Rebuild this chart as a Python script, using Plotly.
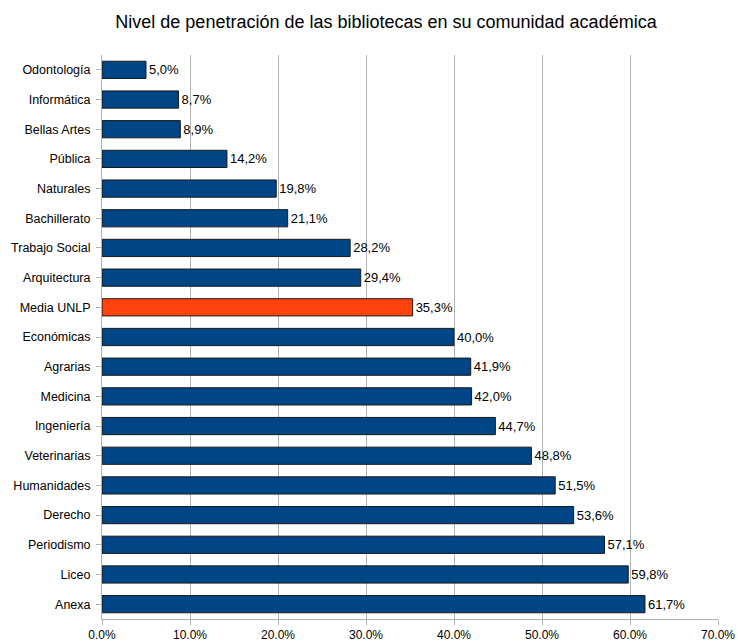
import plotly.graph_objects as go

categories = ["Odontología", "Informática", "Bellas Artes", "Pública", "Naturales",
              "Bachillerato", "Trabajo Social", "Arquitectura", "Media UNLP", "Económicas",
              "Agrarias", "Medicina", "Ingeniería", "Veterinarias", "Humanidades",
              "Derecho", "Periodismo", "Liceo", "Anexa"]
values = [5.0, 8.7, 8.9, 14.2, 19.8, 21.1, 28.2, 29.4, 35.3, 40.0,
          41.9, 42.0, 44.7, 48.8, 51.5, 53.6, 57.1, 59.8, 61.7]
highlight = "Media UNLP"
x_ticks = [0, 10, 20, 30, 40, 50, 60, 70]

FONT = "Liberation Sans, Arial, sans-serif"
colors = ["#ff420e" if c == highlight else "#004586" for c in categories]
labels = [f"{v:.1f}".replace(".", ",") + "%" for v in values]

fig = go.Figure(go.Bar(
    x=values, y=categories, orientation="h",
    marker=dict(color=colors, line=dict(color="#1a1a1a", width=1)),
    text=labels, textposition="outside", cliponaxis=False,
    textfont=dict(family=FONT, size=13, color="#000000"),
    hoverinfo="skip",
))

fig.update_layout(
    width=738, height=641,
    paper_bgcolor="white", plot_bgcolor="white",
    margin=dict(l=102, r=20, t=55, b=22, autoexpand=False),
    bargap=0.42,
    showlegend=False,
    title=dict(text="Nivel de penetración de las bibliotecas en su comunidad académica",
               x=386 / 738, xanchor="center", xref="container",
               y=1 - 22 / 641, yanchor="middle", yref="container", automargin=False,
               font=dict(family=FONT, size=18, color="#000000")),
    font=dict(family=FONT, size=12, color="#000000"),
)

fig.update_xaxes(
    range=[0, 70], tickvals=x_ticks, ticktext=[f"{t:.1f}%" for t in x_ticks],
    showgrid=True, gridcolor="#b3b3b3", gridwidth=1,
    showline=True, linecolor="#b3b3b3", linewidth=1,
    ticks="outside", ticklen=5, tickcolor="#b3b3b3",
    zeroline=False, tickfont=dict(size=12), automargin=False,
)
fig.update_yaxes(
    autorange="reversed",
    showgrid=False, showline=True, linecolor="#b3b3b3", linewidth=1,
    ticks="outside", ticklen=5, tickcolor="#b3b3b3",
    tickfont=dict(size=12.5), ticklabelstandoff=3, automargin=False,
)

fig.write_html("out.html",
               config={"displayModeBar": False, "staticPlot": True},
               post_script="document.body.style.margin='0';document.body.style.overflow='hidden';")
